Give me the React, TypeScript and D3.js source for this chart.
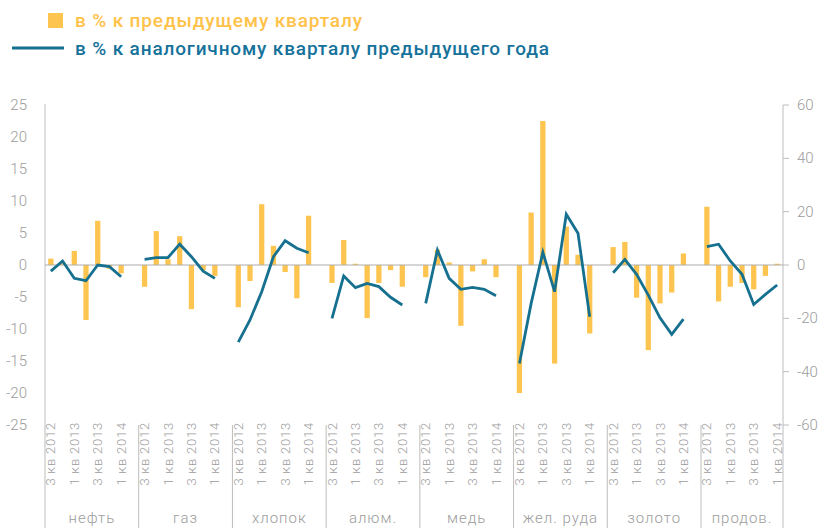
import React from 'react';
import * as d3 from 'd3';

const groups = ['нефть', 'газ', 'хлопок', 'алюм.', 'медь', 'жел. руда', 'золото', 'продов.'];
const quarters = ['3 кв 2012', '4 кв 2012', '1 кв 2013', '2 кв 2013', '3 кв 2013', '4 кв 2013', '1 кв 2014'];
const shownQuarterIdx = [0, 2, 4, 6];

// в % к предыдущему кварталу (left axis)
const qoqOil = [1.0, 0.4, 2.2, -8.6, 6.9, -0.6, -1.3];
const qoqGas = [-3.4, 5.3, 0.9, 4.5, -6.9, -0.8, -1.7];
const qoqCotton = [-6.6, -2.5, 9.5, 3.0, -1.1, -5.2, 7.7];
const qoqAlum = [-2.8, 3.9, 0.2, -8.3, -2.8, -0.8, -3.4];
const qoqCopper = [-1.9, 2.4, 0.4, -9.5, -1.0, 0.9, -1.9];
const qoqIron = [-20.0, 8.2, 22.5, -15.4, 6.0, 1.6, -10.7];
const qoqGold = [2.8, 3.6, -5.1, -13.3, -6.0, -4.3, 1.8];
const qoqFood = [9.1, -5.7, -3.4, -2.8, -3.8, -1.7, 0.2];

// в % к аналогичному кварталу предыдущего года (right axis)
const yoyOil = [-2.3, 1.5, -5.0, -5.9, 0.0, -0.6, -4.4];
const yoyGas = [2.1, 2.8, 2.8, 7.8, 3.1, -2.3, -5.0];
const yoyCotton = [-28.9, -20.6, -10.0, 3.1, 9.1, 6.3, 4.6];
const yoyAlum = [-20.0, -4.1, -8.5, -6.9, -8.1, -12.1, -15.0];
const yoyCopper = [-14.4, 5.6, -5.0, -9.1, -8.4, -9.1, -11.5];
const yoyIron = [-36.9, -14.4, 4.8, -10.0, 19.0, 11.9, -19.4];
const yoyGold = [-2.9, 2.1, -3.5, -11.3, -19.8, -26.0, -20.3];
const yoyFood = [6.9, 7.8, 1.5, -3.5, -14.8, -11.0, -7.5];

const qoqSeries = [qoqOil, qoqGas, qoqCotton, qoqAlum, qoqCopper, qoqIron, qoqGold, qoqFood];
const yoySeries = [yoyOil, yoyGas, yoyCotton, yoyAlum, yoyCopper, yoyIron, yoyGold, yoyFood];

const leftTicks = [25, 20, 15, 10, 5, 0, -5, -10, -15, -20, -25];
const rightTicks = [60, 40, 20, 0, -20, -40, -60];

const legendBar = 'в % к предыдущему кварталу';
const legendLine = 'в % к аналогичному кварталу предыдущего года';

const W = 821;
const H = 528;
const LEFT = 45;
const RIGHT = 783;
const TOP = 105;
const BOTTOM = 425;

const BAR = '#FDC54F';
const LINE = '#16708F';
const GRAY = '#9c9c9c';
const AXIS = '#bdbdbd';
const FONT = 'Roboto, "Noto Sans", sans-serif';

export default function App() {
  // build slot keys: 7 quarters per group + a gap slot between groups
  const keys: string[] = [];
  groups.forEach((g, gi) => {
    quarters.forEach((q, qi) => keys.push(`${gi}-${qi}`));
    if (gi < groups.length - 1) keys.push(`${gi}-gap`);
  });

  const x = d3.scaleBand<string>().domain(keys).range([LEFT, RIGHT]).paddingInner(0.55).paddingOuter(0.275);
  const step = x.step();
  const cx = (gi: number, qi: number) => (x(`${gi}-${qi}`) as number) + x.bandwidth() / 2;

  const yL = d3.scaleLinear().domain([-25, 25]).range([BOTTOM, TOP]);
  const yR = d3.scaleLinear().domain([-60, 60]).range([BOTTOM, TOP]);

  const line = d3.line<[number, number]>().x(d => d[0]).y(d => d[1]);

  const sepX = groups.map((g, gi) => LEFT + gi * 8 * step);
  sepX.push(RIGHT);

  return (
    <svg width={W} height={H} style={{ position: 'absolute', left: 0, top: 0, background: '#fff' }} fontFamily={FONT}>
      {/* legend */}
      <rect x={48} y={13} width={15} height={15} fill={BAR} />
      <text x={75} y={27} fontSize={19} fontWeight={500} fill="#FFC24A" textLength={287} lengthAdjust="spacing">{legendBar}</text>
      <line x1={12} x2={64} y1={48} y2={48} stroke={LINE} strokeWidth={3} />
      <text x={75} y={55} fontSize={19} fontWeight={500} fill="#16729A" textLength={474} lengthAdjust="spacing">{legendLine}</text>

      {/* axes lines */}
      <line x1={LEFT} x2={LEFT} y1={104} y2={H} stroke={AXIS} strokeWidth={1} />
      <line x1={RIGHT} x2={RIGHT} y1={105} y2={H} stroke={AXIS} strokeWidth={1} />
      {sepX.slice(1, -1).map((sx, i) => (
        <line key={i} x1={sx} x2={sx} y1={BOTTOM} y2={H} stroke={AXIS} strokeWidth={1} />
      ))}

      {/* left tick labels */}
      {leftTicks.map(t => (
        <text key={t} x={27} y={yL(t)} textAnchor="end" dominantBaseline="central" fontSize={15} fontWeight={300} fill={GRAY}>{t}</text>
      ))}
      {/* right ticks */}
      {rightTicks.map(t => (
        <g key={t}>
          <line x1={RIGHT} x2={RIGHT + 6} y1={yR(t)} y2={yR(t)} stroke={AXIS} />
          <text x={797} y={yR(t)} textAnchor="start" dominantBaseline="central" fontSize={15} fontWeight={300} fill={GRAY}>{t}</text>
        </g>
      ))}

      {/* bars */}
      {qoqSeries.map((vals, gi) =>
        vals.map((v, qi) => (
          <rect key={`${gi}-${qi}`} x={x(`${gi}-${qi}`)} width={x.bandwidth()}
            y={Math.min(yL(v), yL(0))} height={Math.abs(yL(v) - yL(0))} fill={BAR} />
        ))
      )}

      {/* zero line */}
      <line x1={LEFT} x2={RIGHT} y1={yL(0)} y2={yL(0)} stroke="#acacac" strokeWidth={1} />

      {/* lines */}
      {yoySeries.map((vals, gi) => (
        <path key={gi} d={line(vals.map((v, qi) => [cx(gi, qi), yR(v)] as [number, number])) || ''}
          fill="none" stroke={LINE} strokeWidth={2.8} strokeLinejoin="miter" />
      ))}

      {/* category labels */}
      {groups.map((g, gi) =>
        shownQuarterIdx.map(qi => (
          <text key={`${gi}-${qi}`} transform={`translate(${cx(gi, qi)},422) rotate(-90)`} textAnchor="end"
            dominantBaseline="central" fontSize={13} fontWeight={300} letterSpacing={0.8} fill={GRAY}>{quarters[qi]}</text>
        ))
      )}
      {/* group labels */}
      {groups.map((g, gi) => (
        <text key={g} x={(sepX[gi] + sepX[gi + 1]) / 2} y={523} textAnchor="middle" fontSize={15} fontWeight={300}
          letterSpacing={1} fill={GRAY}>{g}</text>
      ))}
    </svg>
  );
}
